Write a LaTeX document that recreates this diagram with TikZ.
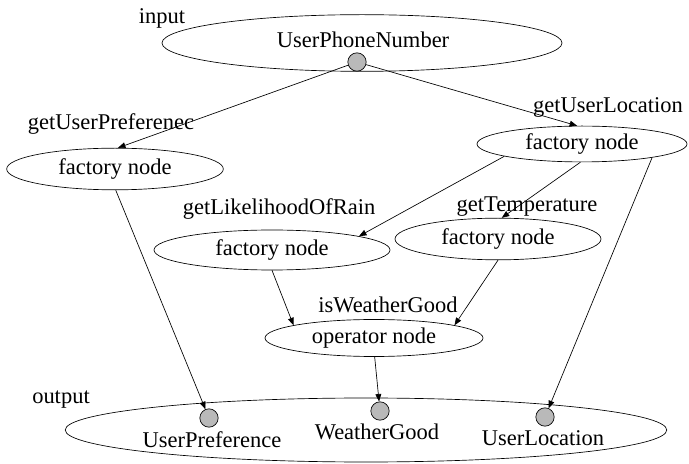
\documentclass[tikz,border=0pt]{standalone}
\usepackage{fontspec}
\setmainfont{Liberation Serif}
\usepackage{tikz}
\usetikzlibrary{arrows.meta, positioning, shapes.geometric}

\begin{document}
\begin{tikzpicture}[x=0.6pt, y=-0.6pt,
    every node/.style={font=\fontsize{13.5}{15}\selectfont},
    blob/.style={ellipse, draw, thin, inner sep=0pt},
    port/.style={circle, draw, thin, fill=gray!55, minimum size=11pt, inner sep=0pt},
    tag/.style={inner sep=1pt},
    arrow/.style={-{Triangle[length=4.5pt, width=3.5pt]}, thin}
  ]
    \useasboundingbox (0,0) rectangle (689,464);
    % input
    \node[blob, minimum width=240pt, minimum height=34pt] (in) at (362,43) {};
    \node[tag] (inname) at (363,40) {UserPhoneNumber};
    \node[port] (inport) at (357,62) {};
    \node[tag] (intag) at (162,18) {input};
    % factory nodes
    \node[blob, minimum width=130pt, minimum height=25pt] (fpref) at (115,169) {factory node};
    \node[tag] at (111,124) {getUserPreferenec};
    \node[blob, minimum width=126pt, minimum height=21.5pt] (floc) at (582,144) {factory node};
    \node[tag] at (608,107) {getUserLocation};
    \node[blob, minimum width=141.6pt, minimum height=24pt] (frain) at (272,250) {factory node};
    \node[tag] at (279,209) {getLikelihoodOfRain};
    \node[blob, minimum width=123.6pt, minimum height=25pt] (ftemp) at (498,239) {factory node};
    \node[tag] at (527,207) {getTemperature};
    % operator node
    \node[blob, minimum width=130.8pt, minimum height=22.2pt] (op) at (374,338) {operator node};
    \node[tag] at (388,305) {isWeatherGood};
    % output
    \node[blob, minimum width=361pt, minimum height=38.4pt] (out) at (366,430) {};
    \node[tag] (outtag) at (61,400) {output};
    \node[port] (p1) at (209,418) {};
    \node[port] (p2) at (380,411) {};
    \node[port] (p3) at (545,417) {};
    \node[tag] at (212,440) {UserPreference};
    \node[tag] at (377,432) {WeatherGood};
    \node[tag] at (543,438) {UserLocation};
    % connectors
    \draw[arrow] (inport) -- (fpref.82);
    \draw[arrow] (inport) -- (floc.105);
    \draw[arrow] (fpref.-88) -- (p1);
    \draw[arrow] (floc.-171) -- (frain.9);
    \draw[arrow] (floc.-95) -- (ftemp.80);
    \draw[arrow] (floc.-11) -- (p3);
    \draw[arrow] (frain.-90) -- (op.171);
    \draw[arrow] (ftemp.-90) -- (op.9);
    \draw[arrow] (op.-88) -- (p2);
  \end{tikzpicture}
\end{document}
